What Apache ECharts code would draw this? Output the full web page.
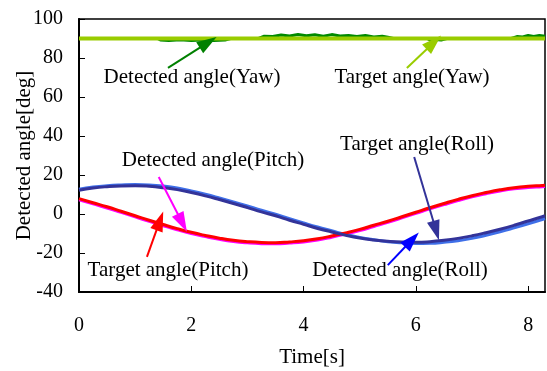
<!DOCTYPE html>
<html>
<head>
<meta charset="utf-8">
<script src="https://cdn.jsdelivr.net/npm/echarts@6/dist/echarts.min.js"></script>
<style>html,body{margin:0;padding:0;background:#fff}#c{width:547px;height:371px}</style>
</head>
<body>
<div id="c"></div>
<script>
// Time samples [s]
var time = [0,0.25,0.5,0.75,1.0,1.25,1.5,1.75,2.0,2.25,2.5,2.75,3.0,3.25,3.5,3.75,4.0,4.25,4.5,4.75,5.0,5.25,5.5,5.75,6.0,6.25,6.5,6.75,7.0,7.25,7.5,7.75,8.0,8.25,8.3];
var targetPitch = [7.9,5.8,3.7,1.4,-0.9,-3.2,-5.4,-7.5,-9.4,-11.0,-12.4,-13.5,-14.2,-14.6,-14.7,-14.3,-13.7,-12.7,-11.3,-9.7,-7.9,-5.8,-3.7,-1.4,0.9,3.2,5.4,7.5,9.4,11.0,12.4,13.5,14.2,14.6,14.7];
var detectedPitch = [7.3,5.2,3.1,0.8,-1.5,-3.8,-6.0,-8.1,-10.0,-11.6,-13.0,-14.1,-14.8,-15.2,-15.3,-14.9,-14.3,-13.3,-11.9,-10.3,-8.5,-6.4,-4.3,-2.0,0.3,2.6,4.8,6.9,8.8,10.4,11.8,12.9,13.6,14.0,14.1];
var targetRoll = [12.2,13.3,14.0,14.4,14.5,14.2,13.5,12.5,11.0,9.3,7.4,5.4,3.3,1.1,-0.9,-3.2,-5.3,-7.4,-9.2,-10.9,-12.3,-13.3,-14.0,-14.4,-14.5,-14.2,-13.5,-12.5,-11.2,-9.6,-7.8,-5.8,-3.6,-1.4,-0.9];
var detectedRoll = [12.7,13.8,14.5,14.9,15.1,14.9,14.3,13.3,11.8,10.1,8.2,6.2,4.1,1.9,-0.1,-2.4,-4.6,-6.7,-8.6,-10.5,-12.0,-13.2,-14.2,-14.8,-15.1,-15.0,-14.5,-13.7,-12.5,-10.9,-9.1,-7.1,-5.0,-2.8,-2.3];
var yawTime = [0,8.3];
var targetYaw = [90,90];
var detectedYawTime = [0,1.4,1.45,1.6,1.8,2.0,2.2,2.4,2.6,2.7,3.2,3.3,3.45,3.6,3.75,3.9,4.05,4.2,4.35,4.5,4.65,4.8,4.95,5.1,5.25,5.4,5.5,5.6,6.2,6.25,6.35,6.45,6.55,7.7,7.8,7.9,8.0,8.1,8.2,8.3];
var detectedYaw = [90,90,89.2,89,89.3,89,89.2,89,89.2,90,90,91.2,91,91.8,91.3,92,91.4,91.9,91.2,92,91.3,91.5,91,91.6,90.8,91.2,90.6,90,90,89.3,89.5,89.2,90,90,91,90.8,91.5,91,91.6,91.2];
var xTicks = [0,2,4,6,8];
var yTicks = [-40,-20,0,20,40,60,80,100];

function zip(a,b){return a.map(function(v,i){return [v,b[i]];});}

var fontFam = '"Liberation Serif","Times New Roman",serif';
function arrow(from,to,color){
  return [{coord:from,lineStyle:{color:color,width:2,type:'solid'},symbol:'none'},{coord:to,symbol:'triangle'}];
}
var chart = echarts.init(document.getElementById('c'));
chart.setOption({
  animation:false,
  backgroundColor:'#fff',
  grid:{left:79,top:19,right:2,bottom:79,show:true,borderColor:'#000',borderWidth:1.5,outerBoundsMode:'none',containLabel:false},
  xAxis:{type:'value',min:0,max:8.3,interval:2,
    name:'Time[s]',nameLocation:'middle',nameGap:55,nameMoveOverlap:false,
    nameTextStyle:{fontFamily:fontFam,fontSize:21,color:'#000'},
    axisLine:{onZero:false,lineStyle:{color:'#000',width:2}},
    axisTick:{inside:true,length:6,lineStyle:{color:'#000',width:1}},
    axisLabel:{fontFamily:fontFam,fontSize:20,color:'#000',margin:24,showMaxLabel:false,
      formatter:function(v){return xTicks.indexOf(v)>=0?String(v):'';}},
    splitLine:{show:false}},
  yAxis:{type:'value',min:-40,max:100,interval:20,
    name:'Detected angle[deg]',nameLocation:'middle',nameGap:44,nameMoveOverlap:false,
    nameTextStyle:{fontFamily:fontFam,fontSize:21,color:'#000'},
    axisLine:{onZero:false,lineStyle:{color:'#000',width:2}},
    axisTick:{inside:true,length:6,lineStyle:{color:'#000',width:1}},
    axisLabel:{fontFamily:fontFam,fontSize:20,color:'#000',margin:16,
      formatter:function(v){return yTicks.indexOf(v)>=0?String(v):'';}},
    splitLine:{show:false}},
  series:[
    {type:'line',name:'Detected angle(Yaw)',data:zip(detectedYawTime,detectedYaw),showSymbol:false,lineStyle:{color:'#008a00',width:3},z:2},
    {type:'line',name:'Target angle(Yaw)',data:zip(yawTime,targetYaw),showSymbol:false,lineStyle:{color:'#99cc00',width:4},z:3},
    {type:'line',name:'Detected angle(Pitch)',data:zip(time,detectedPitch),smooth:true,showSymbol:false,lineStyle:{color:'#ff00ff',width:3},z:2},
    {type:'line',name:'Target angle(Pitch)',data:zip(time,targetPitch),smooth:true,showSymbol:false,lineStyle:{color:'#ff0000',width:3},z:3},
    {type:'line',name:'Detected angle(Roll)',data:zip(time,detectedRoll),smooth:true,showSymbol:false,lineStyle:{color:'#3f6fe8',width:3},z:2},
    {type:'line',name:'Target angle(Roll)',data:zip(time,targetRoll),smooth:true,showSymbol:false,lineStyle:{color:'#333399',width:3},z:3},
    {type:'line',data:[],z:5,
      markLine:{silent:true,symbol:['none','triangle'],symbolSize:[13,20],label:{show:false},
        lineStyle:{type:'solid',width:2},emphasis:{disabled:true},
        data:[
          arrow([1.585,74.9],[2.3,88.0],'#008000'),
          arrow([5.84,74.9],[6.32,88.0],'#99cc00'),
          arrow([1.42,19],[1.84,-4.5],'#ff00ff'),
          arrow([1.21,-22],[1.44,-3.5],'#ff0000'),
          arrow([5.97,29.2],[6.36,-8.5],'#333399'),
          arrow([5.50,-26.2],[5.93,-13.2],'#0000ff')
        ]}}
  ],
  graphic:[
    {type:'text',x:192,y:77,style:{text:'Detected angle(Yaw)',font:'21px '+fontFam,fill:'#000',textAlign:'center',textVerticalAlign:'middle'}},
    {type:'text',x:412,y:77,style:{text:'Target angle(Yaw)',font:'21px '+fontFam,fill:'#000',textAlign:'center',textVerticalAlign:'middle'}},
    {type:'text',x:213,y:160,style:{text:'Detected angle(Pitch)',font:'21px '+fontFam,fill:'#000',textAlign:'center',textVerticalAlign:'middle'}},
    {type:'text',x:168,y:270,style:{text:'Target angle(Pitch)',font:'21px '+fontFam,fill:'#000',textAlign:'center',textVerticalAlign:'middle'}},
    {type:'text',x:417,y:144,style:{text:'Target angle(Roll)',font:'21px '+fontFam,fill:'#000',textAlign:'center',textVerticalAlign:'middle'}},
    {type:'text',x:400,y:270,style:{text:'Detected angle(Roll)',font:'21px '+fontFam,fill:'#000',textAlign:'center',textVerticalAlign:'middle'}}
  ]
});
</script>
</body>
</html>
